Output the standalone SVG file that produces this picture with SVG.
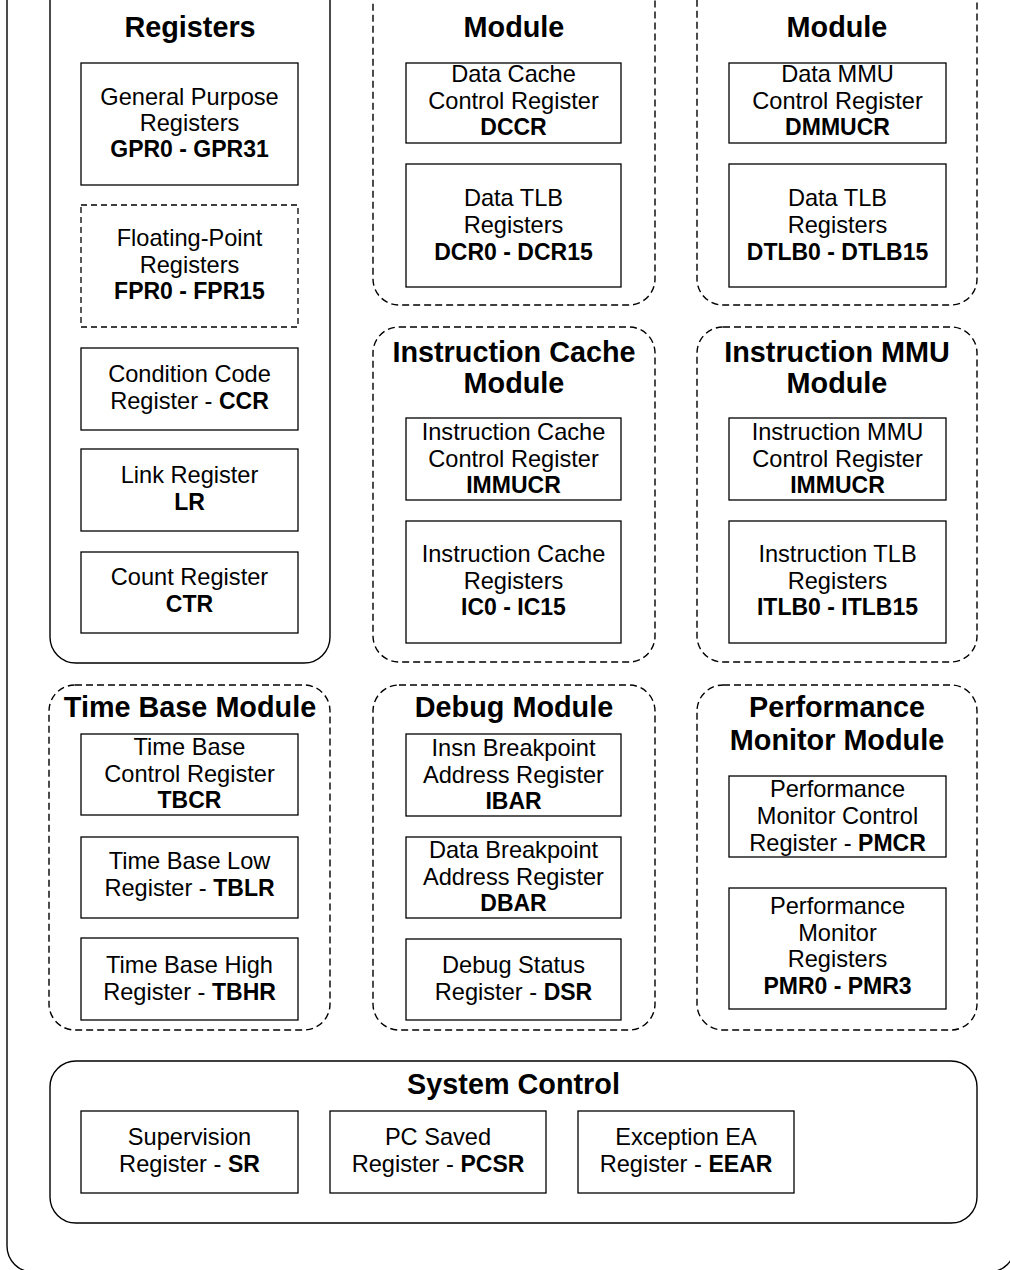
<svg xmlns="http://www.w3.org/2000/svg" width="1010" height="1270" viewBox="0 0 1010 1270">
  <style>
    text { font-family: "Liberation Sans", Arial, sans-serif; fill: #000; text-anchor: middle; }
    .t { font-size: 28.8px; font-weight: bold; }
    .b { font-size: 23.6px; }
    .k { font-size: 23px; font-weight: bold; }
    .grp { fill: none; stroke: #000; stroke-width: 1.4; }
    .dash { stroke-dasharray: 7 4; }
    .reg { fill: #fff; stroke: #000; stroke-width: 1.3; }
    .regd { fill: #fff; stroke: #000; stroke-width: 1.3; stroke-dasharray: 6 4; }
  </style>
  <rect width="1010" height="1270" fill="#fff"/>

  <!-- outer processor frame -->
  <rect id="frame" class="grp" x="7" y="-40" width="1008" height="1312" rx="26"/>

  <!-- Registers group -->
  <g id="registers">
    <rect class="grp" x="50" y="-30" width="280" height="693" rx="26"/>
    <text class="t" x="190" y="37">Registers</text>
  </g>
  <g id="gpr">
    <rect class="reg" x="81" y="63" width="217" height="122"/>
    <text class="b" x="189.5" y="105">General Purpose</text>
    <text class="b" x="189.5" y="131">Registers</text>
    <text class="b k" x="189.5" y="157">GPR0 - GPR31</text>
  </g>
  <g id="fpr">
    <rect class="regd" x="81" y="205" width="217" height="122"/>
    <text class="b" x="189.5" y="246">Floating-Point</text>
    <text class="b" x="189.5" y="273">Registers</text>
    <text class="b k" x="189.5" y="299">FPR0 - FPR15</text>
  </g>
  <g id="ccr">
    <rect class="reg" x="81" y="348" width="217" height="82"/>
    <text class="b" x="189.5" y="382">Condition Code</text>
    <text class="b" x="189.5" y="409">Register - <tspan class="k">CCR</tspan></text>
  </g>
  <g id="lr">
    <rect class="reg" x="81" y="449" width="217" height="82"/>
    <text class="b" x="189.5" y="483">Link Register</text>
    <text class="b k" x="189.5" y="510">LR</text>
  </g>
  <g id="ctr">
    <rect class="reg" x="81" y="552" width="217" height="81"/>
    <text class="b" x="189.5" y="585">Count Register</text>
    <text class="b k" x="189.5" y="612">CTR</text>
  </g>

  <!-- Data Cache module -->
  <g id="data-cache">
    <rect class="grp dash" x="373" y="-30" width="282" height="335" rx="26"/>
    <text class="t" x="514" y="37">Module</text>
  </g>
  <g id="dccr">
    <rect class="reg" x="406" y="63" width="215" height="80"/>
    <text class="b" x="513.5" y="82">Data Cache</text>
    <text class="b" x="513.5" y="109">Control Register</text>
    <text class="b k" x="513.5" y="135">DCCR</text>
  </g>
  <g id="dcr">
    <rect class="reg" x="406" y="164" width="215" height="123"/>
    <text class="b" x="513.5" y="206">Data TLB</text>
    <text class="b" x="513.5" y="233">Registers</text>
    <text class="b k" x="513.5" y="260">DCR0 - DCR15</text>
  </g>

  <!-- Data MMU module -->
  <g id="data-mmu">
    <rect class="grp dash" x="697" y="-30" width="280" height="335" rx="26"/>
    <text class="t" x="837" y="37">Module</text>
  </g>
  <g id="dmmucr">
    <rect class="reg" x="729" y="63" width="217" height="80"/>
    <text class="b" x="837.5" y="82">Data MMU</text>
    <text class="b" x="837.5" y="109">Control Register</text>
    <text class="b k" x="837.5" y="135">DMMUCR</text>
  </g>
  <g id="dtlb">
    <rect class="reg" x="729" y="164" width="217" height="123"/>
    <text class="b" x="837.5" y="206">Data TLB</text>
    <text class="b" x="837.5" y="233">Registers</text>
    <text class="b k" x="837.5" y="260">DTLB0 - DTLB15</text>
  </g>

  <!-- Instruction Cache module -->
  <g id="insn-cache">
    <rect class="grp dash" x="373" y="327" width="282" height="335" rx="26"/>
    <text class="t" x="514" y="362">Instruction Cache</text>
    <text class="t" x="514" y="393">Module</text>
  </g>
  <g id="iccr">
    <rect class="reg" x="406" y="418" width="215" height="82"/>
    <text class="b" x="513.5" y="440">Instruction Cache</text>
    <text class="b" x="513.5" y="467">Control Register</text>
    <text class="b k" x="513.5" y="493">IMMUCR</text>
  </g>
  <g id="ic">
    <rect class="reg" x="406" y="521" width="215" height="122"/>
    <text class="b" x="513.5" y="562">Instruction Cache</text>
    <text class="b" x="513.5" y="589">Registers</text>
    <text class="b k" x="513.5" y="615">IC0 - IC15</text>
  </g>

  <!-- Instruction MMU module -->
  <g id="insn-mmu">
    <rect class="grp dash" x="697" y="327" width="280" height="335" rx="26"/>
    <text class="t" x="837" y="362">Instruction MMU</text>
    <text class="t" x="837" y="393">Module</text>
  </g>
  <g id="immucr">
    <rect class="reg" x="729" y="418" width="217" height="82"/>
    <text class="b" x="837.5" y="440">Instruction MMU</text>
    <text class="b" x="837.5" y="467">Control Register</text>
    <text class="b k" x="837.5" y="493">IMMUCR</text>
  </g>
  <g id="itlb">
    <rect class="reg" x="729" y="521" width="217" height="122"/>
    <text class="b" x="837.5" y="562">Instruction TLB</text>
    <text class="b" x="837.5" y="589">Registers</text>
    <text class="b k" x="837.5" y="615">ITLB0 - ITLB15</text>
  </g>

  <!-- Time Base module -->
  <g id="time-base">
    <rect class="grp dash" x="49" y="685" width="281" height="345" rx="26"/>
    <text class="t" x="190" y="717">Time Base Module</text>
  </g>
  <g id="tbcr">
    <rect class="reg" x="81" y="734" width="217" height="81"/>
    <text class="b" x="189.5" y="755">Time Base</text>
    <text class="b" x="189.5" y="782">Control Register</text>
    <text class="b k" x="189.5" y="808">TBCR</text>
  </g>
  <g id="tblr">
    <rect class="reg" x="81" y="837" width="217" height="81"/>
    <text class="b" x="189.5" y="869">Time Base Low</text>
    <text class="b" x="189.5" y="896">Register - <tspan class="k">TBLR</tspan></text>
  </g>
  <g id="tbhr">
    <rect class="reg" x="81" y="938" width="217" height="82"/>
    <text class="b" x="189.5" y="973">Time Base High</text>
    <text class="b" x="189.5" y="1000">Register - <tspan class="k">TBHR</tspan></text>
  </g>

  <!-- Debug module -->
  <g id="debug">
    <rect class="grp dash" x="373" y="685" width="282" height="345" rx="26"/>
    <text class="t" x="514" y="717">Debug Module</text>
  </g>
  <g id="ibar">
    <rect class="reg" x="406" y="734" width="215" height="82"/>
    <text class="b" x="513.5" y="756">Insn Breakpoint</text>
    <text class="b" x="513.5" y="783">Address Register</text>
    <text class="b k" x="513.5" y="809">IBAR</text>
  </g>
  <g id="dbar">
    <rect class="reg" x="406" y="837" width="215" height="81"/>
    <text class="b" x="513.5" y="858">Data Breakpoint</text>
    <text class="b" x="513.5" y="885">Address Register</text>
    <text class="b k" x="513.5" y="911">DBAR</text>
  </g>
  <g id="dsr">
    <rect class="reg" x="406" y="939" width="215" height="81"/>
    <text class="b" x="513.5" y="973">Debug Status</text>
    <text class="b" x="513.5" y="1000">Register - <tspan class="k">DSR</tspan></text>
  </g>

  <!-- Performance Monitor module -->
  <g id="perf-monitor">
    <rect class="grp dash" x="697" y="685" width="280" height="345" rx="26"/>
    <text class="t" x="837" y="717">Performance</text>
    <text class="t" x="837" y="750">Monitor Module</text>
  </g>
  <g id="pmcr">
    <rect class="reg" x="729" y="776" width="217" height="81"/>
    <text class="b" x="837.5" y="797">Performance</text>
    <text class="b" x="837.5" y="824">Monitor Control</text>
    <text class="b" x="837.5" y="851">Register - <tspan class="k">PMCR</tspan></text>
  </g>
  <g id="pmr">
    <rect class="reg" x="729" y="888" width="217" height="121"/>
    <text class="b" x="837.5" y="914">Performance</text>
    <text class="b" x="837.5" y="941">Monitor</text>
    <text class="b" x="837.5" y="967">Registers</text>
    <text class="b k" x="837.5" y="994">PMR0 - PMR3</text>
  </g>

  <!-- System Control group -->
  <g id="system-control">
    <rect class="grp" x="50" y="1061" width="927" height="162" rx="26"/>
    <text class="t" x="513.5" y="1094">System Control</text>
  </g>
  <g id="sr">
    <rect class="reg" x="81" y="1111" width="217" height="82"/>
    <text class="b" x="189.5" y="1145">Supervision</text>
    <text class="b" x="189.5" y="1172">Register - <tspan class="k">SR</tspan></text>
  </g>
  <g id="pcsr">
    <rect class="reg" x="330" y="1111" width="216" height="82"/>
    <text class="b" x="438" y="1145">PC Saved</text>
    <text class="b" x="438" y="1172">Register - <tspan class="k">PCSR</tspan></text>
  </g>
  <g id="eear">
    <rect class="reg" x="578" y="1111" width="216" height="82"/>
    <text class="b" x="686" y="1145">Exception EA</text>
    <text class="b" x="686" y="1172">Register - <tspan class="k">EEAR</tspan></text>
  </g>
</svg>
